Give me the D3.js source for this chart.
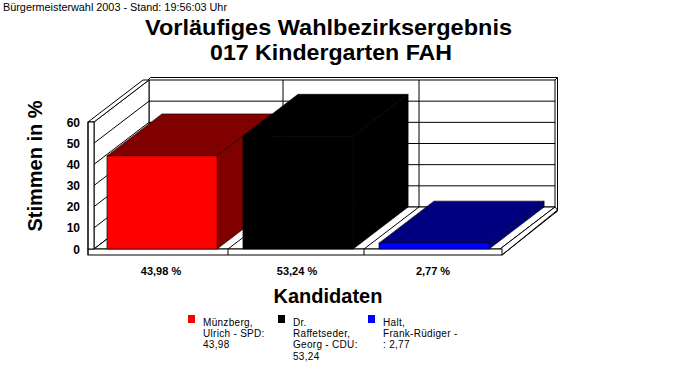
<!DOCTYPE html>
<html><head><meta charset="utf-8">
<script src="https://cdn.jsdelivr.net/npm/d3@7"></script>
<style>
html,body{margin:0;padding:0;background:#fff;}
svg{display:block;}
text{font-family:"Liberation Sans",Arial,sans-serif;fill:#000;}
</style></head>
<body>
<svg id="chart" width="683" height="380"></svg>
<script>
const subtitle = "Bürgermeisterwahl 2003 - Stand: 19:56:03 Uhr";
const titleLines = ["Vorläufiges Wahlbezirksergebnis", "017 Kindergarten FAH"];
const categories = ["Münzberg, Ulrich - SPD", "Dr. Raffetseder, Georg - CDU", "Halt, Frank-Rüdiger -"];
const values = [43.98, 53.24, 2.77];
const valueLabels = ["43,98 %", "53,24 %", "2,77 %"];
const legendLines = [
  ["Münzberg,", "Ulrich - SPD:", "43,98"],
  ["Dr.", "Raffetseder,", "Georg - CDU:", "53,24"],
  ["Halt,", "Frank-Rüdiger -", ": 2,77"]
];
const yTicks = [0, 10, 20, 30, 40, 50, 60];
const frontColors = ["#ff0000", "#000000", "#0000ff"];
const sideColors = ["#800000", "#000000", "#000080"];
const yTitle = "Stimmen in %";
const xTitle = "Kandidaten";

const svg = d3.select("#chart");
const y = d3.scaleLinear().domain([0, 60]).range([249, 122]);
const x = d3.scaleBand().domain(categories).range([92, 500]);
const bw = x.bandwidth();
const DX = 55, DY = -42;     // depth offset
const wallL = 88, wallIn = 94, floorBot = 255, xR = 500;
const pts = a => a.map(p => p.join(",")).join(" ");
const line = (g, x1, y1, x2, y2) => g.append("line").attr("x1", x1).attr("y1", y1).attr("x2", x2).attr("y2", y2)
  .attr("stroke", "#000").attr("stroke-width", 1);

const g = svg.append("g");
const y0 = y(0), yTop = y(60);

// back wall
g.append("rect").attr("x", wallIn + DX).attr("y", yTop + DY).attr("width", xR - wallIn).attr("height", y0 - yTop)
  .attr("fill", "#fff").attr("stroke", "#000");
yTicks.slice(1, -1).forEach(v => line(g, wallIn + DX, y(v) + DY, xR + DX, y(v) + DY));
categories.slice(1).forEach(c => line(g, x(c) + DX, yTop + DY, x(c) + DX, y0 + DY));
// back wall thickness
g.append("polyline").attr("points", pts([[wallIn + DX - 1, yTop + DY], [wallIn + DX + 1.5, yTop + DY - 2.5], [xR + DX + 2.5, yTop + DY - 2.5], [xR + DX + 2.5, y0 + DY + 4], [xR + DX, y0 + DY + 6]]))
  .attr("fill", "none").attr("stroke", "#000");
line(g, xR + DX, yTop + DY, xR + DX + 2.5, yTop + DY - 2.5);

// left wall inner face
g.append("polygon").attr("points", pts([[wallIn, yTop], [wallIn + DX, yTop + DY], [wallIn + DX, y0 + DY], [wallIn, y0]]))
  .attr("fill", "#fff").attr("stroke", "#000");
yTicks.slice(0, -1).forEach(v => line(g, wallIn, y(v), wallIn + DX, y(v) + DY));
// left wall top
g.append("polygon").attr("points", pts([[wallL, yTop], [wallIn, yTop], [wallIn + DX, yTop + DY], [wallL + DX, yTop + DY]]))
  .attr("fill", "#fff").attr("stroke", "#000");

// floor top face
g.append("polygon").attr("points", pts([[wallIn, y0], [xR, y0], [xR + DX, y0 + DY], [wallIn + DX, y0 + DY]]))
  .attr("fill", "#fff").attr("stroke", "#000");
categories.slice(1).forEach(c => line(g, x(c), y0, x(c) + DX, y0 + DY));
// floor right face
g.append("polygon").attr("points", pts([[xR, y0], [xR + DX, y0 + DY], [xR + DX + 2.5, y0 + DY + 3], [xR + 2, floorBot]]))
  .attr("fill", "#fff").attr("stroke", "#000");
line(g, xR + 2, floorBot, xR + DX + 2.5, y0 + DY + 4);
// floor front face + left wall front face
g.append("rect").attr("x", wallL).attr("y", y0).attr("width", xR + 2 - wallL).attr("height", floorBot - y0)
  .attr("fill", "#fff").attr("stroke", "#000");
categories.slice(1).forEach(c => line(g, x(c), y0, x(c), floorBot));
g.append("rect").attr("x", wallL).attr("y", yTop).attr("width", wallIn - wallL).attr("height", y0 - yTop)
  .attr("fill", "#fff").attr("stroke", "#000");
line(g, wallL, yTop, wallL, floorBot);

// bars
categories.forEach((c, i) => {
  const bx = x(c) + bw * 0.11, bwid = bw * 0.81;
  const yt = y(values[i]);
  const bg = g.append("g");
  bg.append("polygon").attr("points", pts([[bx, yt], [bx + bwid, yt], [bx + bwid + DX, yt + DY], [bx + DX, yt + DY]]))
    .attr("fill", sideColors[i]).attr("stroke", "#000").attr("stroke-width", 0.6);
  bg.append("polygon").attr("points", pts([[bx + bwid, yt], [bx + bwid + DX, yt + DY], [bx + bwid + DX, y0 + DY], [bx + bwid, y0]]))
    .attr("fill", sideColors[i]).attr("stroke", "#000").attr("stroke-width", 0.6);
  bg.append("rect").attr("x", bx).attr("y", yt).attr("width", bwid).attr("height", y0 - yt)
    .attr("fill", frontColors[i]).attr("stroke", "#000").attr("stroke-width", 0.6);
});

// y tick labels
g.selectAll(".yt").data(yTicks).enter().append("text")
  .attr("x", 80).attr("y", d => y(d) + 4.5).attr("text-anchor", "end")
  .attr("font-size", 12).attr("font-weight", "bold").text(d => d);

// value labels
g.selectAll(".vl").data(valueLabels).enter().append("text")
  .attr("x", (d, i) => x(categories[i]) + bw / 2 + 1).attr("y", 275).attr("text-anchor", "middle")
  .attr("font-size", 11).attr("font-weight", "bold").text(d => d);

// titles
svg.append("text").attr("x", 3).attr("y", 11).attr("font-size", 10)
  .attr("textLength", 224).attr("lengthAdjust", "spacingAndGlyphs").text(subtitle);
svg.append("text").attr("x", 328.5).attr("y", 35).attr("text-anchor", "middle").attr("font-size", 22.5)
  .attr("font-weight", "bold").attr("textLength", 367).attr("lengthAdjust", "spacingAndGlyphs").text(titleLines[0]);
svg.append("text").attr("x", 331).attr("y", 59.5).attr("text-anchor", "middle").attr("font-size", 22.5)
  .attr("font-weight", "bold").attr("textLength", 242).attr("lengthAdjust", "spacingAndGlyphs").text(titleLines[1]);
svg.append("text").attr("transform", "translate(42,166) rotate(-90)").attr("text-anchor", "middle")
  .attr("font-size", 20).attr("font-weight", "bold").text(yTitle);
svg.append("text").attr("x", 328).attr("y", 303).attr("text-anchor", "middle")
  .attr("font-size", 20).attr("font-weight", "bold").text(xTitle);

// legend
const lx = d3.scaleBand().domain(categories).range([188, 458]);
categories.forEach((c, i) => {
  const lg = svg.append("g");
  lg.append("rect").attr("x", lx(c)).attr("y", 315).attr("width", 7).attr("height", 8).attr("fill", frontColors[i]);
  legendLines[i].forEach((t, j) => {
    lg.append("text").attr("x", lx(c) + 15).attr("y", 325.5 + j * 11.4).attr("font-size", 10)
      .attr("letter-spacing", 0.3).text(t);
  });
});
</script>
</body></html>
